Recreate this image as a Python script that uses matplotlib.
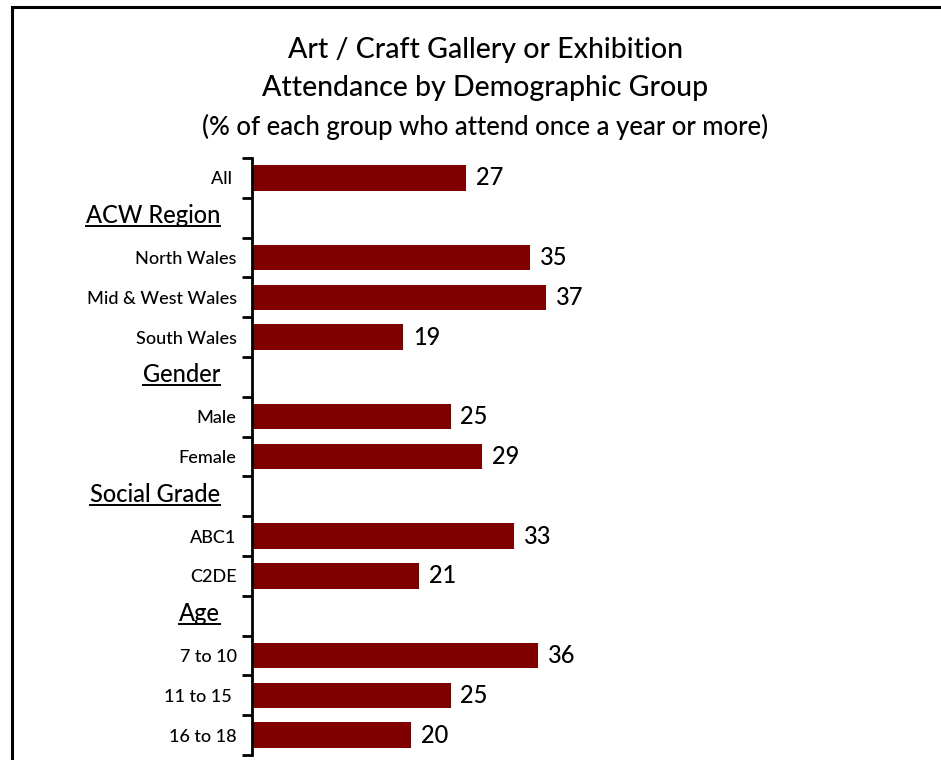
import matplotlib
matplotlib.use("Agg")
import matplotlib.pyplot as plt
from matplotlib.lines import Line2D
from matplotlib.patches import Rectangle

plt.rcParams["font.family"] = ["Lato", "DejaVu Sans"]
plt.rcParams["font.weight"] = "medium"

# Rows from top to bottom; None marks a section header row
row_labels = ["All ", "ACW Region", "North Wales", "Mid & West Wales", "South Wales",
              "Gender", "Male", "Female", "Social Grade", "ABC1", "C2DE",
              "Age", "7 to 10", "11 to 15 ", "16 to 18"]
row_values = [27, None, 35, 37, 19, None, 25, 29, None, 33, 21, None, 36, 25, 20]
header_rows = ["ACW Region", "Gender", "Social Grade", "Age"]

title_lines = ["Art / Craft Gallery or Exhibition", "Attendance by Demographic Group"]
subtitle = "(% of each group who attend once a year or more)"

bar_color = "#800000"

W, H = 941, 760
fig = plt.figure(figsize=(W / 100, H / 100), dpi=100)

# Outer frame (top and left edges visible)
fig.patches.append(Rectangle((12 / W, -0.05), 1.1, 1 - 7 / H + 0.05,
                             transform=fig.transFigure, fill=False,
                             edgecolor="black", linewidth=2.2, zorder=0))

ax = fig.add_axes([252 / W, 5 / H, 660 / W, (755 - 158) / H])

n = len(row_labels)
ypos = list(range(n))
for y, v in zip(ypos, row_values):
    if v is None:
        continue
    ax.barh(y, v, height=0.64, color=bar_color)
    ax.text(v + 1.25, y, f"{v}", va="center", ha="left", fontsize=17, color="black")

ax.set_ylim(n - 0.5, -0.5)
ax.set_xlim(0, 660 / 7.94)

for s in ["top", "right", "bottom"]:
    ax.spines[s].set_visible(False)
ax.spines["left"].set_linewidth(2)
ax.set_xticks([])

ax.set_yticks(ypos)
ax.set_yticklabels([l if l not in header_rows else "" for l in row_labels], fontsize=13)
ax.tick_params(axis="y", which="major", length=0, pad=11)
ax.set_yticks([i - 0.5 for i in range(n + 1)], minor=True)
ax.tick_params(axis="y", which="minor", length=7, width=2, direction="out")

# Section headers, underlined
header_texts = []
for y, l in zip(ypos, row_labels):
    if l in header_rows:
        t = ax.text(-32 / 7.94, y - 0.05, l, ha="right", va="center", fontsize=17)
        header_texts.append(t)

fig.text(485 / W, 1 - 50 / H, title_lines[0], ha="center", va="center", fontsize=20.5)
fig.text(485 / W, 1 - 88 / H, title_lines[1], ha="center", va="center", fontsize=20.5)
fig.text(485 / W, 1 - 127 / H, subtitle, ha="center", va="center", fontsize=18.5)

fig.canvas.draw()
renderer = fig.canvas.get_renderer()
for t in header_texts:
    bb = t.get_window_extent(renderer)
    yline = bb.y0 + 1
    fig.add_artist(Line2D([bb.x0 / W, bb.x1 / W], [yline / H, yline / H],
                          transform=fig.transFigure, color="black", linewidth=1.4))

fig.savefig("out.png", dpi=100)
